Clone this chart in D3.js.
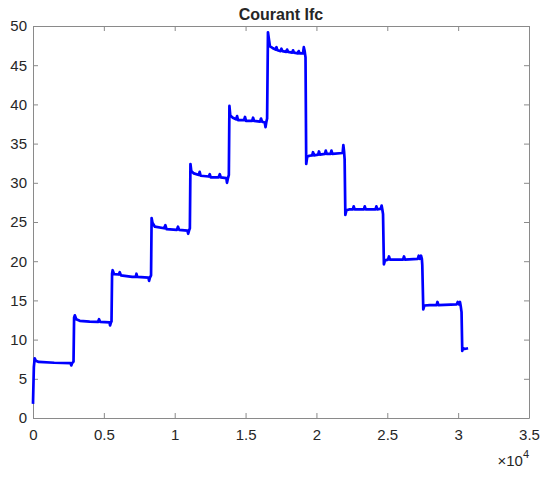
<!DOCTYPE html>
<html>
<head>
<meta charset="utf-8">
<script src="https://cdn.jsdelivr.net/npm/d3@7"></script>
<style>
  body { margin: 0; background: #fff; }
  text { font-family: "Liberation Sans", Arial, sans-serif; fill: #262626; }
</style>
</head>
<body>
<svg id="chart"></svg>
<script>
var title = "Courant Ifc";
var xTicks = [0, 5000, 10000, 15000, 20000, 25000, 30000, 35000];
var xTickLabels = ["0", "0.5", "1", "1.5", "2", "2.5", "3", "3.5"];
var yTicks = [0, 5, 10, 15, 20, 25, 30, 35, 40, 45, 50];

// samples (time, current)
var time = [
  0, 60, 120, 200, 400, 1500, 2650, 2700, 2760,
  2860, 2900, 2950, 3050, 3300, 4000, 4580, 4660, 4740, 5400, 5440, 5500,
  5540, 5580, 5620, 5720, 6050, 6120, 6200, 7000, 7250, 7300, 7360, 8150, 8190, 8250,
  8330, 8370, 8430, 8600, 9250, 9340, 9420, 10150, 10230, 10310, 10900, 10950, 11010,
  11070, 11110, 11170, 11350, 11700, 11760, 11830, 12400, 12470, 12540, 13100, 13180, 13250, 13640, 13690, 13760,
  13820, 13860, 13920, 14100, 14330, 14400, 14470, 14890, 14960, 15030, 15460, 15530, 15600, 16020, 16090, 16160, 16350, 16410, 16470,
  16520, 16580, 16650, 16720, 16900, 17120, 17180, 17250, 17470, 17530, 17600, 17870, 17930, 18000, 18290, 18350, 18420, 18690, 18750, 18820, 19050, 19110, 19170,
  19230, 19280, 19350, 19500, 19700, 19760, 19830, 20120, 20180, 20250, 20600, 20660, 20730, 21000, 21060, 21130, 21850, 21900, 21950,
  21990, 22040, 22120, 22300, 22570, 22630, 22700, 23350, 23410, 23480, 24170, 24230, 24300, 24550, 24600, 24650,
  24700, 24760, 24840, 25050, 25120, 25190, 26110, 26180, 26250, 27150, 27220, 27300, 27380, 27440,
  27470, 27540, 27620, 28000, 28480, 28540, 28610, 29900, 29970, 30050, 30130, 30180,
  30240, 30290, 30350, 30450, 30700
];
var current = [
  1.8, 6.5, 7.6, 7.3, 7.15, 7.05, 7.0, 6.7, 7.0,
  7.2, 12.8, 13.1, 12.6, 12.4, 12.3, 12.25, 12.6, 12.25, 12.2, 11.8, 12.2,
  12.3, 18.4, 18.85, 18.35, 18.3, 18.6, 18.2, 18.0, 18.0, 18.4, 18.0, 17.9, 17.5, 17.9,
  18.2, 25.5, 24.9, 24.4, 24.2, 24.6, 24.1, 24.0, 24.4, 24.0, 23.9, 23.5, 23.9,
  24.2, 32.4, 31.5, 31.2, 31.0, 31.4, 30.9, 30.8, 31.1, 30.7, 30.7, 31.1, 30.7, 30.6, 30.0, 30.6,
  31.0, 39.8, 38.6, 38.3, 38.1, 38.5, 38.0, 38.0, 38.4, 37.9, 37.9, 38.3, 37.9, 37.8, 38.2, 37.8, 37.7, 37.1, 37.8,
  38.2, 49.2, 48.3, 47.4, 47.2, 47.0, 47.3, 46.9, 46.8, 47.1, 46.8, 46.7, 47.0, 46.7, 46.6, 46.9, 46.6, 46.5, 46.8, 46.5, 46.5, 47.3, 46.8,
  46.0, 32.4, 33.3, 33.45, 33.5, 33.9, 33.5, 33.6, 34.0, 33.6, 33.7, 34.1, 33.7, 33.7, 34.1, 33.7, 33.8, 34.8, 34.0,
  33.0, 25.9, 26.5, 26.6, 26.6, 27.0, 26.6, 26.6, 27.0, 26.6, 26.6, 27.0, 26.6, 26.7, 27.1, 26.6,
  26.0, 19.6, 20.1, 20.2, 20.6, 20.2, 20.2, 20.6, 20.2, 20.3, 20.7, 20.3, 20.7, 20.3,
  19.5, 13.85, 14.35, 14.4, 14.4, 14.8, 14.4, 14.5, 14.8, 14.5, 14.8, 14.3,
  13.5, 8.55, 8.9, 8.8, 8.9
];

var W = 550, H = 477;
var margin = { top: 26, right: 21, bottom: 59, left: 33 };
var iw = W - margin.left - margin.right;
var ih = H - margin.top - margin.bottom;

var svg = d3.select("#chart").attr("width", W).attr("height", H);
var g = svg.append("g").attr("transform", "translate(" + margin.left + "," + margin.top + ")");

var x = d3.scaleLinear().domain([0, 35000]).range([0, iw]);
var y = d3.scaleLinear().domain([0, 50]).range([ih, 0]);

// axes, MATLAB style with inward ticks on all four sides
var axisColor = "#8a8a8a";
var xAxis = g.append("g").attr("transform", "translate(0," + ih + ")")
  .call(d3.axisBottom(x).tickValues(xTicks).tickSizeInner(-5).tickSizeOuter(0)
    .tickPadding(11).tickFormat(function (d, i) { return xTickLabels[i] }));
var yAxis = g.append("g")
  .call(d3.axisLeft(y).tickValues(yTicks).tickSizeInner(-5).tickSizeOuter(0).tickPadding(6));
var xTop = g.append("g")
  .call(d3.axisTop(x).tickValues(xTicks).tickSizeInner(-5).tickSizeOuter(0).tickFormat(""));
var yRight = g.append("g").attr("transform", "translate(" + iw + ",0)")
  .call(d3.axisRight(y).tickValues(yTicks).tickSizeInner(-5).tickSizeOuter(0).tickFormat(""));

[xAxis, yAxis, xTop, yRight].forEach(function (a) {
  a.selectAll("path, line").attr("stroke", axisColor);
  a.selectAll("text").attr("font-size", 15).attr("fill", "#262626")
    .style("font-family", "'Liberation Sans', Arial, sans-serif");
});

var line = d3.line()
  .x(function (d) { return x(d[0]) })
  .y(function (d) { return y(d[1]) });

g.append("path")
  .datum(d3.zip(time, current))
  .attr("fill", "none")
  .attr("stroke", "#0000ff")
  .attr("stroke-width", 2.7)
  .attr("stroke-linejoin", "round")
  .attr("d", line);

svg.append("text")
  .attr("x", margin.left + iw / 2)
  .attr("y", 20)
  .attr("text-anchor", "middle")
  .attr("font-size", 16)
  .attr("font-weight", "bold")
  .attr("fill", "#000")
  .text(title);

// exponent label
var ex = svg.append("text")
  .attr("x", margin.left + iw)
  .attr("y", 466)
  .attr("text-anchor", "end")
  .attr("font-size", 15)
  .attr("fill", "#262626");
ex.append("tspan").text("\u00d710");
ex.append("tspan").attr("dy", -8).attr("font-size", 11).text("4");
</script>
</body>
</html>
